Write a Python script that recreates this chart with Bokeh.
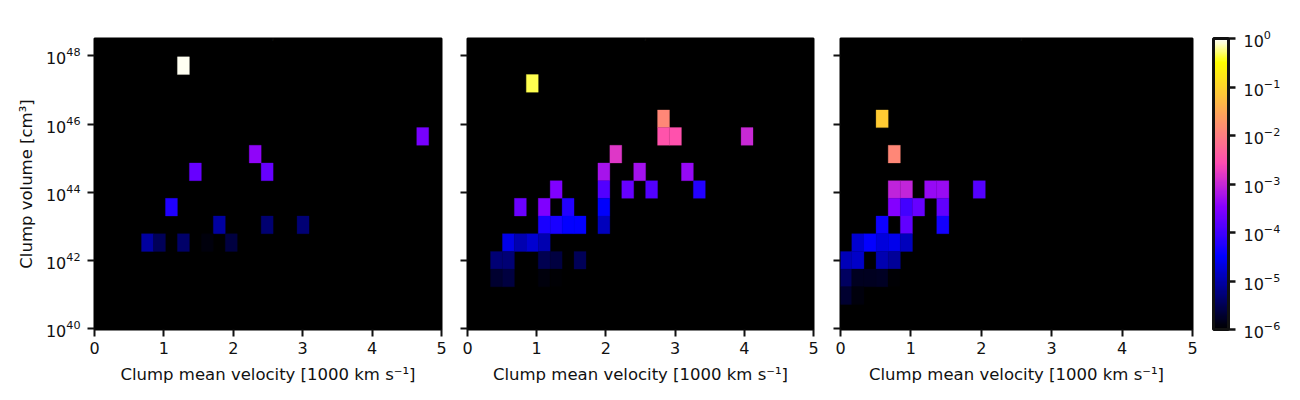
import numpy as np
from bokeh.embed import file_html
from bokeh.layouts import row
from bokeh.models import (ColorBar, ColumnDataSource, CustomJSTickFormatter, FixedTicker,
                          Label, LogColorMapper, LogTicker)
from bokeh.plotting import figure
from bokeh.resources import INLINE

# histogram bins: 29 in velocity, 0.519 dex in volume counted down from the top
v_edges = np.linspace(-0.012, 4.988, 30)
logv_edges = np.linspace(48.49, 48.49 - 0.519 * 17, 18)

x_ticks = [0, 1, 2, 3, 4, 5]
y_ticks = [1e40, 1e42, 1e44, 1e46, 1e48]

fr09_col = [7, 27, 13, 8, 14, 6, 10, 14, 17, 4, 5, 7, 9, 11]
fr09_row = [1, 5, 6, 7, 7, 9, 10, 10, 10, 11, 11, 11, 11, 11]
fr09_val = [0.93, 2.5e-4, 3.8e-4, 1.9e-4, 1.9e-4, 5.6e-5, 8.7e-6, 4.6e-6, 5e-6,
            8.7e-6, 3.3e-6, 4.2e-6, 1.2e-6, 2.4e-6]

fr05_col = [5, 16, 16, 17, 23, 12, 11, 14, 18, 11, 13, 15, 19, 7, 4, 6, 8, 11,
            6, 7, 8, 9, 11, 3, 4, 5, 6, 2, 3, 6, 7, 9, 2, 3, 6, 7]
fr05_row = [2, 4, 5, 5, 5, 6, 7, 7, 7, 8, 8, 8, 8, 8, 9, 9, 9, 9,
            10, 10, 10, 10, 10, 11, 11, 11, 11, 12, 12, 12, 12, 12, 13, 13, 13, 13]
fr05_val = [0.45, 0.013, 3.2e-3, 3e-3, 1e-3, 1.5e-3, 5.8e-4, 5.5e-4, 4.4e-4,
            1.35e-4, 1.9e-4, 1.3e-4, 6e-5, 2.9e-4, 2e-4, 2.9e-4, 6e-5, 3e-5,
            5e-5, 5e-5, 3.5e-5, 3.5e-5, 1.3e-5, 2.3e-5, 1.1e-5, 1.7e-5, 1.1e-5,
            5e-6, 5e-6, 3e-6, 2.4e-6, 3.3e-6, 2e-6, 2.4e-6, 1.2e-6, 1.1e-6]

fr01_col = [3, 4, 4, 5, 7, 8, 11, 4, 5, 6, 8, 3, 5, 8, 1, 2, 3, 4, 5, 0, 1, 3, 4,
            0, 1, 2, 3, 4, 0, 1]
fr01_row = [4, 6, 8, 8, 8, 8, 8, 9, 9, 9, 9, 10, 10, 10, 11, 11, 11, 11, 11,
            12, 12, 12, 12, 13, 13, 13, 13, 13, 14, 14]
fr01_val = [0.083, 0.013, 8.7e-4, 9e-4, 4.4e-4, 4.6e-4, 1.4e-4, 3.2e-4, 1e-4, 1.9e-4,
            1.7e-4, 4e-5, 1.7e-4, 4.5e-5, 1.7e-5, 3.5e-5, 2e-5, 2.5e-5, 1.3e-5,
            1.2e-5, 1.5e-5, 1.1e-5, 8e-6, 3.8e-6, 1.6e-6, 1.6e-6, 1.7e-6, 1.1e-6,
            2e-6, 1.2e-6]

FONT = "DejaVu Sans"
SIZE = "16px"
Y_TOP = 10 ** 48.51


def gnuplot2(n=256):
    x = np.linspace(0, 1, n)
    r = np.clip(x / 0.32 - 0.78125, 0, 1)
    g = np.clip(2 * x - 0.84, 0, 1)
    b = np.where(x < 0.25, 4 * x, np.where(x < 0.92, -2 * x + 1.84, x / 0.08 - 11.5))
    b = np.clip(b, 0, 1)
    return ["#%02x%02x%02x" % (int(a * 255), int(c * 255), int(d * 255)) for a, c, d in zip(r, g, b)]


mapper = LogColorMapper(palette=gnuplot2(), low=1e-6, high=1)


def panel(col, row_i, val, rho, width, left, right, first=False):
    col = np.array(col)
    row_i = np.array(row_i)
    src = ColumnDataSource(dict(
        left=v_edges[col], right=v_edges[col + 1],
        top=10.0 ** logv_edges[row_i], bottom=10.0 ** logv_edges[row_i + 1],
        val=val,
    ))
    p = figure(width=width, height=392, output_backend="svg", toolbar_location=None,
               x_range=(0, 5), y_range=(10 ** 39.97, Y_TOP), y_axis_type="log",
               min_border_left=left, min_border_right=right,
               min_border_top=38, min_border_bottom=63,
               background_fill_color="black", border_fill_color="white",
               outline_line_color="black", outline_line_width=2)
    p.quad(left="left", right="right", top="top", bottom="bottom", source=src,
           fill_color={"field": "val", "transform": mapper},
           line_color={"field": "val", "transform": mapper}, line_width=0.3)
    p.grid.visible = False

    for ax in (p.xaxis[0], p.yaxis[0]):
        ax.major_label_text_font = FONT
        ax.major_label_text_font_size = SIZE
        ax.major_label_text_color = "#111111"
        ax.axis_label_text_font = FONT
        ax.axis_label_text_font_size = "16.5px"
        ax.axis_label_text_font_style = "normal"
        ax.axis_label_text_color = "#111111"
        ax.major_tick_line_width = 2
        ax.major_tick_line_color = "#111111"
        ax.major_tick_out = 7
        ax.major_tick_in = 0
        ax.minor_tick_line_color = None
        ax.axis_line_color = None

    p.xaxis.ticker = FixedTicker(ticks=x_ticks)
    p.xaxis.axis_label = "Clump mean velocity [1000 km s⁻¹]"
    p.xaxis.major_label_standoff = 5
    p.xaxis.axis_label_standoff = 8
    p.yaxis.ticker = FixedTicker(ticks=y_ticks)
    if first:
        p.yaxis.axis_label = "Clump volume [cm³]"
        p.yaxis.major_label_standoff = 7
        p.yaxis.axis_label_standoff = 7
    else:
        p.yaxis.formatter = CustomJSTickFormatter(code="return ''")
        p.yaxis.major_label_standoff = 0

    # title pieces, offsets in pixels from the frame's top centre
    pieces = [("W15", -59, 9, "normal", SIZE), ("F", -6, 9, "italic", SIZE),
              ("ρ", 4, 5, "italic", "11.5px"), ("=", 17, 9, "normal", SIZE),
              (rho, 33, 9, "normal", SIZE)]
    for txt, dx, dy, style, size in pieces:
        p.add_layout(Label(x=2.5, y=Y_TOP, x_offset=dx, y_offset=dy, text=txt,
                           text_font=FONT, text_font_size=size, text_font_style=style,
                           text_color="#111111", text_align="left", text_baseline="alphabetic"))
    return p


p1 = panel(fr09_col, fr09_row, fr09_val, "0.9", 455, 94, 14, first=True)
p2 = panel(fr05_col, fr05_row, fr05_val, "0.5", 371, 12, 13)
p3 = panel(fr01_col, fr01_row, fr01_val, "0.1", 466, 14, 100)

cbar = ColorBar(color_mapper=mapper, ticker=LogTicker(desired_num_ticks=7),
                location=(21, 0), width=15, height=291, padding=0, margin=0,
                bar_line_color="#111111", bar_line_width=3,
                major_tick_line_color="#111111", major_tick_line_width=2.5,
                major_tick_in=0, major_tick_out=7, minor_tick_line_color=None,
                major_label_text_font=FONT, major_label_text_font_size=SIZE,
                major_label_text_color="#111111", label_standoff=8)
p3.add_layout(cbar, "right")

layout = row(p1, p2, p3, spacing=0)
open("out.html", "w").write(file_html(layout, INLINE))
